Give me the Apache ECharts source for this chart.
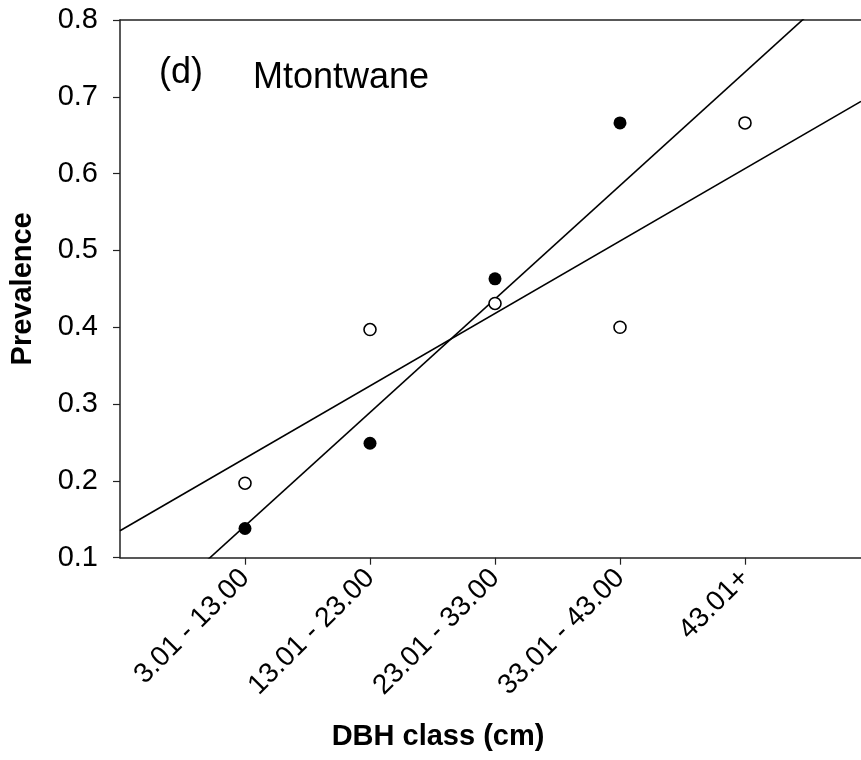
<!DOCTYPE html>
<html>
<head>
<meta charset="utf-8">
<title>Mtontwane prevalence by DBH class</title>
<script src="https://cdn.jsdelivr.net/npm/echarts@6/dist/echarts.min.js"></script>
<style>
  html, body { margin: 0; padding: 0; background: #fff; }
  #chart { width: 861px; height: 760px; }
</style>
</head>
<body>
<div id="chart"></div>
<script>
// DBH classes, placed at x = 1..5
var categories = ['3.01 - 13.00', '13.01 - 23.00', '23.01 - 33.00', '33.01 - 43.00', '43.01+'];
var classPositions = [1, 2, 3, 4, 5];

// Prevalence per class (filled markers have no value for the last class)
var filledValues = [0.138, 0.249, 0.463, 0.666];
var openValues = [0.197, 0.397, 0.431, 0.400, 0.666];

// Fitted straight lines: prevalence = intercept + slope * x
var filledFit = { intercept: -0.0063, slope: 0.1477 };
var openFit = { intercept: 0.135, slope: 0.0943 };

// Axis ranges and tick labels
var xMin = 0, xMax = 5.928;
var yTicks = [0.1, 0.2, 0.3, 0.4, 0.5, 0.6, 0.7, 0.8];

var FONT = '"Liberation Sans", Arial, sans-serif';

function pairs(xs, ys) {
  return ys.map(function (v, i) { return [xs[i], v]; });
}
function fitLine(fit) {
  return [xMin, xMax].map(function (x) { return [x, fit.intercept + fit.slope * x]; });
}

var chart = echarts.init(document.getElementById('chart'), null, { renderer: 'canvas' });

chart.setOption({
  backgroundColor: '#fff',
  animation: false,
  grid: { left: 120, right: 0, top: 20, bottom: 202.3, outerBoundsMode: 'none', containLabel: false },
  xAxis: [{
    type: 'value',
    min: xMin,
    max: xMax,
    interval: 1,
    splitLine: { show: false },
    axisLine: { show: true, onZero: false, lineStyle: { color: '#222', width: 1.5 } },
    axisTick: { show: true, length: 7, customValues: classPositions, lineStyle: { color: '#222', width: 1.2 } },
    axisLabel: {
      customValues: classPositions,
      rotate: 45,
      margin: 16,
      color: '#000',
      fontFamily: FONT,
      fontSize: 28,
      formatter: function (v) {
        var i = classPositions.indexOf(Math.round(v));
        return i >= 0 ? categories[i] : '';
      }
    }
  }, {
    type: 'value',
    position: 'top',
    min: xMin,
    max: xMax,
    axisLine: { show: true, onZero: false, lineStyle: { color: '#222', width: 1.5 } },
    axisTick: { show: false },
    axisLabel: { show: false },
    splitLine: { show: false }
  }],
  yAxis: {
    type: 'value',
    min: yTicks[0],
    max: yTicks[yTicks.length - 1],
    interval: 0.1,
    splitLine: { show: false },
    axisLine: { show: true, onZero: false, lineStyle: { color: '#222', width: 1.5 } },
    axisTick: { show: true, length: 7, lineStyle: { color: '#222', width: 1.2 } },
    axisLabel: {
      margin: 22,
      color: '#000',
      fontFamily: FONT,
      fontSize: 29,
      formatter: function (v) { return v.toFixed(1); }
    },
    name: 'Prevalence',
    nameLocation: 'middle',
    nameGap: 83,
    nameTextStyle: { color: '#000', fontFamily: FONT, fontSize: 29, fontWeight: 'bold' }
  },
  graphic: [
    { type: 'text', left: 159, top: 55, style: { text: '(d)', font: '36px ' + FONT, fill: '#000' } },
    { type: 'text', left: 253, top: 60, style: { text: 'Mtontwane', font: '36px ' + FONT, fill: '#000' } },
    {
      type: 'text', x: 438, y: 737,
      style: { text: 'DBH class (cm)', font: 'bold 29px ' + FONT, fill: '#000', align: 'center', verticalAlign: 'middle' }
    }
  ],
  series: [
    {
      name: 'fit filled',
      type: 'line',
      data: fitLine(filledFit),
      symbol: 'none',
      clip: true,
      lineStyle: { color: '#000', width: 1.6 },
      z: 2
    },
    {
      name: 'fit open',
      type: 'line',
      data: fitLine(openFit),
      symbol: 'none',
      clip: true,
      lineStyle: { color: '#000', width: 1.6 },
      z: 2
    },
    {
      name: 'open',
      type: 'scatter',
      data: pairs(classPositions, openValues),
      symbol: 'circle',
      symbolSize: 12,
      itemStyle: { color: '#fff', borderColor: '#000', borderWidth: 1.6, opacity: 1 },
      z: 3
    },
    {
      name: 'filled',
      type: 'scatter',
      data: pairs(classPositions, filledValues),
      symbol: 'circle',
      symbolSize: 13,
      itemStyle: { color: '#000', opacity: 1 },
      z: 4
    }
  ]
});
</script>
</body>
</html>
